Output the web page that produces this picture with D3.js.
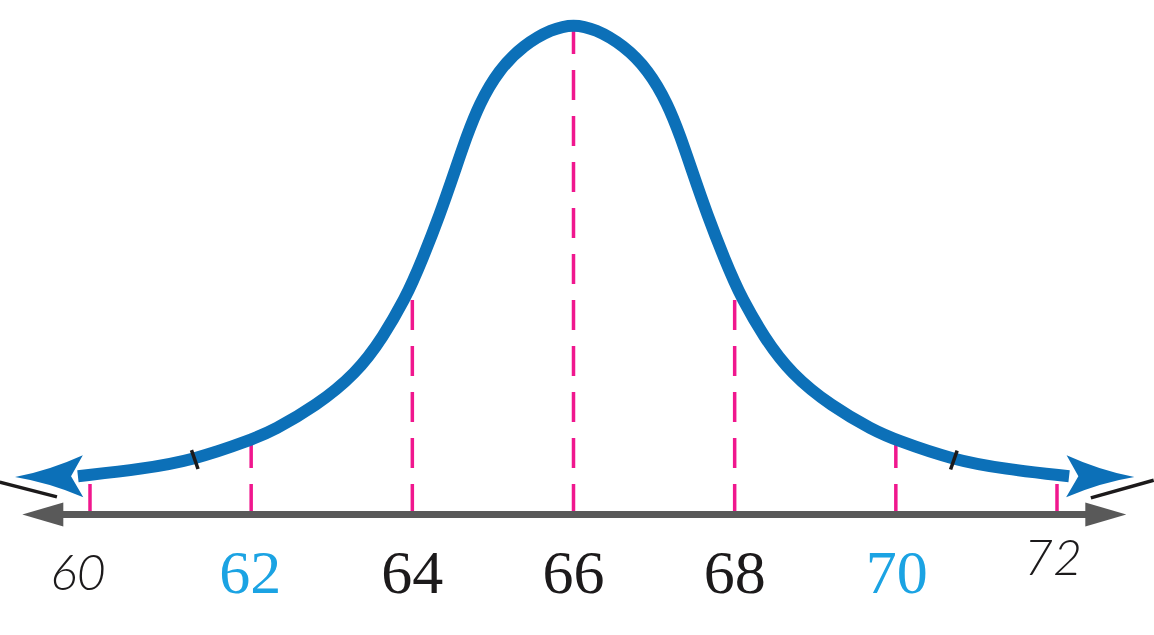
<!DOCTYPE html>
<html><head><meta charset="utf-8">
<script src="https://cdn.jsdelivr.net/npm/d3@7"></script>
<style>html,body{margin:0;padding:0;background:#fff;overflow:hidden}</style>
</head><body>
<svg id="chart" width="1154" height="635"></svg>
<script>
// ---- data ----
const ticks = [60, 62, 64, 66, 68, 70, 72];
const tickLabels = ["60", "62", "64", "66", "68", "70", "72"];
// curve (x in data units, y relative height, 1 = peak)
const curveX = [59.85, 60.66, 61.28, 62.00, 62.28, 62.80, 63.30, 63.64, 63.93, 64.00, 64.11, 64.34, 64.54, 64.67, 64.83, 65.07, 65.38, 65.73,
  66.00,
  66.27, 66.62, 66.93, 67.17, 67.33, 67.46, 67.66, 67.89, 68.00, 68.07, 68.36, 68.70, 69.20, 69.72, 70.00, 70.72, 71.34, 72.15];
const curveY = [0.077, 0.092, 0.110, 0.151, 0.171, 0.220, 0.286, 0.361, 0.447, 0.473, 0.514, 0.610, 0.706, 0.769, 0.837, 0.906, 0.957, 0.990,
  1.000,
  0.990, 0.957, 0.906, 0.837, 0.769, 0.706, 0.610, 0.514, 0.473, 0.447, 0.361, 0.286, 0.220, 0.171, 0.151, 0.110, 0.092, 0.077];
const curveMarksX = [61.3, 70.72];
const curveArrowTipX = [59.07, 72.96];
const curveArrowTipY = [0.0755, 0.0755];
const axisEndsX = [59.16, 72.86];
const slashX = [[58.88, 59.59], [72.42, 73.20]];
const slashY = [[0.065, 0.035], [0.033, 0.069]];

// ---- styles ----
const BLUE = "#0c70b8", PINK = "#f0178e", AXIS = "#595959", INK = "#1c1a1b", LIGHTBLUE = "#1ba3e3";
const labelStyle = {
  "60": {family: "Lato", style: "italic", weight: 300, size: 50, fill: INK, dx: -12, base: 590},
  "72": {family: "Lato", style: "italic", weight: 300, size: 50, fill: INK, dx: -4, base: 575},
  "62": {family: "Liberation Serif", style: "normal", weight: 400, size: 62, fill: LIGHTBLUE, dx: -1, base: 593},
  "70": {family: "Liberation Serif", style: "normal", weight: 400, size: 62, fill: LIGHTBLUE, dx: 1, base: 593},
  "64": {family: "Liberation Serif", style: "normal", weight: 400, size: 62, fill: INK, dx: 0, base: 593},
  "66": {family: "Liberation Serif", style: "normal", weight: 400, size: 62, fill: INK, dx: 0, base: 593},
  "68": {family: "Liberation Serif", style: "normal", weight: 400, size: 62, fill: INK, dx: 0, base: 593}
};

const x = d3.scaleLinear().domain([60, 72]).range([90, 1057]);
const y = d3.scaleLinear().domain([0, 1]).range([514, 24]);
const svg = d3.select("#chart");

// value of the read curve at a given x (linear between read points)
const bis = d3.bisector(d => d).left;
function curveAt(v) {
  let i = Math.max(1, Math.min(curveX.length - 1, bis(curveX, v)));
  const t = (v - curveX[i - 1]) / (curveX[i] - curveX[i - 1]);
  return {i: i - 1, t, val: curveY[i - 1] + t * (curveY[i] - curveY[i - 1])};
}

// pink dashed guide lines
svg.append("g").selectAll("line").data(ticks).join("line")
  .attr("x1", d => x(d)).attr("x2", d => x(d))
  .attr("y1", y(0)).attr("y2", d => y(curveAt(d).val))
  .attr("stroke", PINK).attr("stroke-width", 3.5).attr("stroke-dasharray", "30,16");

// axis with arrowheads
const ax0 = x(axisEndsX[0]), ax1 = x(axisEndsX[1]), ay = y(0) + 0.5;
svg.append("line").attr("x1", ax0 + 30).attr("x2", ax1 - 30).attr("y1", ay).attr("y2", ay)
  .attr("stroke", AXIS).attr("stroke-width", 7);
svg.append("g").selectAll("path").data([[ax0, 1], [ax1, -1]]).join("path")
  .attr("d", ([t, s]) => `M${t},${ay}L${t + s * 41},${ay - 12}L${t + s * 41},${ay + 12}Z`)
  .attr("fill", AXIS);

// slashes
svg.append("g").selectAll("line").data(slashX.map((xx, i) => [xx, slashY[i]])).join("line")
  .attr("x1", d => x(d[0][0])).attr("x2", d => x(d[0][1]))
  .attr("y1", d => y(d[1][0])).attr("y2", d => y(d[1][1]))
  .attr("stroke", INK).attr("stroke-width", 3.5);

// curve
const idx = d3.range(curveX.length);
const line = d3.line().x(i => x(curveX[i])).y(i => y(curveY[i])).curve(d3.curveBasis);
svg.append("path").attr("d", line(idx)).attr("fill", "none")
  .attr("stroke", BLUE).attr("stroke-width", 12);

// curve arrowheads
const ends = [0, curveX.length - 1];
svg.append("g").selectAll("path").data([0, 1]).join("path")
  .attr("d", k => {
    const T = [x(curveArrowTipX[k]), y(curveArrowTipY[k])];
    const E = [x(curveX[ends[k]]), y(curveY[ends[k]])];
    let ux = T[0] - E[0], uy = T[1] - E[1];
    const L = Math.hypot(ux, uy); ux /= L; uy /= L;
    const nx = -uy, ny = ux;
    const P = (a, b) => [T[0] - a * ux + b * nx, T[1] - a * uy + b * ny];
    const c1 = P(68, 21), c2 = P(68, -21), notch = P(56, 0);
    const q1 = P(34, 6), q2 = P(34, -6);
    return `M${T}Q${q1} ${c1}L${notch}L${c2}Q${q2} ${T}Z`;
  })
  .attr("fill", BLUE);

// black marks across the curve
svg.append("g").selectAll("line").data(curveMarksX).join("line")
  .each(function (mx) {
    const c = curveAt(mx), i = c.i;
    const px = x(mx), py = y(c.val);
    let tx = x(curveX[i + 1]) - x(curveX[i]), ty = y(curveY[i + 1]) - y(curveY[i]);
    const L = Math.hypot(tx, ty); tx /= L; ty /= L;
    const nx = -ty, ny = tx;
    d3.select(this).attr("x1", px - 10 * nx).attr("y1", py - 10 * ny)
      .attr("x2", px + 10 * nx).attr("y2", py + 10 * ny);
  })
  .attr("stroke", INK).attr("stroke-width", 3.5);

// labels
svg.append("g").selectAll("text").data(tickLabels).join("text")
  .attr("x", (d, i) => x(ticks[i]) + labelStyle[d].dx)
  .attr("y", d => labelStyle[d].base)
  .attr("text-anchor", "middle")
  .attr("font-family", d => labelStyle[d].family)
  .attr("font-style", d => labelStyle[d].style)
  .attr("font-weight", d => labelStyle[d].weight)
  .attr("font-size", d => labelStyle[d].size)
  .attr("fill", d => labelStyle[d].fill)
  .text(d => d);
</script>
</body></html>
